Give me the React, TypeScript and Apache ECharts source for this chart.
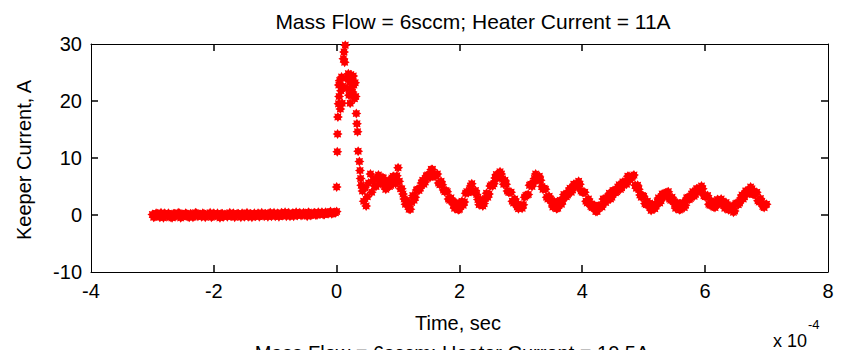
import React, { useEffect, useRef } from "react";
import * as echarts from "echarts";

// Time axis in units of 1e-4 s
const xTicks = [-4, -2, 0, 2, 4, 6, 8];
const yTicks = [-10, 0, 10, 20, 30];

// Baseline before the discharge: two interleaved sample sets, every 0.04
const baselineStartA = -3.0;
const baselineStartB = -2.98;
const baselineStep = 0.04;
const baselineValuesA = [
  0.1, -0.3, 0.2, -0.4, 0.0, 0.3, -0.2, 0.1, -0.5, 0.2,
  -0.1, 0.3, -0.3, 0.0, 0.2, -0.4, 0.1, -0.2, 0.3, 0.0,
  -0.3, 0.2, -0.1, 0.1, -0.4, 0.3, 0.0, -0.2, 0.2, -0.3,
  0.1, 0.0, -0.2, 0.3, -0.1, 0.2, -0.4, 0.1, 0.0, -0.3,
  0.2, 0.1, -0.2, 0.3, -0.1, 0.0, 0.2, -0.3, 0.4, 0.1,
  -0.2, 0.3, 0.0, -0.1, 0.5, 0.2, -0.2, 0.3, 0.1, -0.1,
  0.4, 0.0, 0.2, -0.2, 0.3, 0.1, 0.4, 0.0, 0.2, 0.5,
  0.1, 0.3, 0.4, 0.2, 0.5, 0.6,
];
const baselineValuesB = [
  -0.4, 0.3, -0.1, 0.4, -0.5, 0.1, 0.3, -0.4, 0.2, -0.2,
  0.4, -0.5, 0.1, 0.3, -0.3, 0.2, -0.4, 0.4, -0.2, 0.1,
  0.3, -0.4, 0.0, 0.4, -0.2, -0.1, 0.3, -0.5, 0.2, 0.1,
  -0.3, 0.4, -0.1, -0.4, 0.2, 0.0, 0.3, -0.3, 0.4, -0.1,
  -0.4, 0.3, 0.1, -0.3, 0.4, -0.2, 0.0, 0.3, -0.2, 0.4,
  0.0, -0.3, 0.4, 0.1, -0.2, 0.4, 0.0, -0.2, 0.5, 0.2,
  -0.1, 0.4, 0.1, 0.5, -0.1, 0.3, 0.0, 0.5, 0.2, 0.1,
  0.5, 0.2, 0.6, 0.3, 0.4,
];

// Ignition burst: [time, current]
const burstPoints: [number, number][] = [
  [0.0, 4.9], [0.01, 11.1], [0.015, 14.2], [0.02, 17.2], [0.03, 19.5], [0.035, 22.8],
  [0.04, 20.8], [0.05, 23.6], [0.06, 18.6], [0.07, 21.8], [0.08, 24.2], [0.09, 19.6],
  [0.1, 22.6], [0.11, 27.4], [0.12, 28.6], [0.13, 26.8], [0.14, 29.8], [0.15, 24.0],
  [0.17, 22.2], [0.19, 24.8], [0.2, 21.0], [0.21, 23.4], [0.22, 19.6], [0.23, 24.6],
  [0.24, 22.4], [0.25, 23.8], [0.26, 21.6], [0.27, 24.4], [0.28, 22.8], [0.29, 20.4],
  [0.3, 23.2], [0.31, 20.8], [0.32, 17.8], [0.33, 16.0], [0.34, 14.6], [0.35, 11.2],
  [0.37, 9.4], [0.38, 7.8], [0.39, 6.4], [0.4, 5.2], [0.42, 4.2], [0.44, 2.4],
  [0.46, 4.8], [0.48, 1.6], [0.5, 3.2], [0.52, 5.6], [0.55, 7.2], [0.57, 4.0],
];

// Oscillating current after ignition: two interleaved sample sets, every 0.04
const ringStartA = 0.6;
const ringStartB = 0.62;
const ringStep = 0.04;
const ringValuesA = [
  6.2, 5.0, 7.0, 5.5, 6.5, 4.5, 6.0, 5.2, 6.8, 5.5,
  8.3, 4.6, 3.7, 1.9, 1.9, 1.0, 3.4, 3.1, 4.5, 4.7,
  6.1, 5.8, 7.0, 6.6, 8.0, 6.8, 7.2, 5.3, 5.3, 4.1,
  4.1, 2.6, 2.4, 1.2, 1.8, 1.0, 2.4, 2.3, 4.1, 4.3,
  5.5, 4.0, 3.6, 1.8, 2.2, 2.0, 3.8, 3.7, 5.3, 5.5,
  7.1, 7.0, 7.2, 5.4, 5.4, 4.0, 4.0, 2.1, 2.3, 1.1,
  1.7, 1.8, 3.4, 3.6, 5.4, 5.6, 7.2, 6.3, 6.1, 4.5,
  4.5, 2.8, 2.8, 1.4, 2.0, 1.2, 2.6, 2.5, 3.5, 3.5,
  4.7, 4.4, 5.4, 5.0, 5.4, 4.0, 4.0, 2.1, 2.3, 1.3,
  1.7, 0.6, 1.6, 1.4, 2.8, 2.6, 3.8, 3.1, 4.3, 4.1,
  5.3, 4.8, 5.8, 5.4, 6.8, 6.6, 7.0, 4.7, 4.5, 3.1,
  3.3, 1.8, 2.0, 0.8, 1.6, 1.6, 3.0, 2.5, 3.7, 3.5,
  4.1, 2.6, 2.6, 1.2, 1.8, 1.0, 2.2, 1.7, 3.1, 2.9,
  4.1, 3.6, 4.6, 4.2, 4.6, 3.2, 3.4, 1.7, 2.1, 1.3,
  2.7, 2.2, 2.4, 1.2, 1.8, 1.0, 1.6, 0.7, 2.1, 2.1,
  3.5, 3.2, 4.2, 3.8, 4.6, 3.6, 4.0, 2.3, 2.3, 1.3,
  1.9,
];
const ringValuesB = [
  5.1, 6.4, 6.0, 6.6, 5.1, 5.4, 5.0, 6.5, 5.9, 6.9,
  5.9, 4.6, 2.8, 2.6, 1.0, 2.2, 2.6, 4.4, 4.3, 5.6,
  5.4, 6.9, 6.8, 8.0, 6.9, 7.0, 5.6, 5.9, 4.4, 4.3,
  2.8, 3.0, 1.8, 2.2, 0.9, 1.7, 1.7, 3.8, 3.9, 5.1,
  4.2, 4.3, 2.7, 2.7, 1.6, 2.9, 3.1, 5.1, 5.1, 6.5,
  6.5, 7.6, 6.3, 6.1, 4.2, 4.0, 2.4, 2.8, 1.4, 1.6,
  1.2, 3.1, 3.5, 5.2, 5.0, 6.4, 6.1, 6.8, 5.0, 4.7,
  3.1, 3.3, 2.1, 2.4, 1.1, 1.9, 1.9, 3.6, 3.2, 4.3,
  4.0, 5.4, 5.2, 5.9, 4.2, 4.0, 2.4, 2.8, 1.5, 1.7,
  0.6, 1.6, 1.5, 2.8, 2.2, 3.2, 2.8, 4.3, 3.9, 4.9,
  4.5, 5.8, 5.6, 6.8, 6.2, 6.8, 5.2, 5.2, 3.5, 3.4,
  2.0, 2.4, 1.4, 1.9, 1.1, 2.3, 2.1, 3.7, 3.3, 4.0,
  2.8, 3.1, 1.9, 2.2, 0.9, 1.6, 1.3, 3.0, 2.7, 3.7,
  3.3, 4.6, 4.4, 5.1, 3.4, 3.3, 1.9, 2.5, 1.4, 2.2,
  1.9, 2.8, 1.8, 2.2, 0.9, 1.3, 0.5, 2.0, 1.8, 3.0,
  2.8, 4.2, 4.0, 4.9, 3.6, 3.8, 2.5, 2.9, 1.5, 1.8,
];

const FONT = "'Liberation Sans', Arial, Helvetica, sans-serif";
const FS = 20;
const TICK_LEN = 7;
const STAR =
  "path://M20 10 L16.01 12.49 L17.07 17.07 L12.49 16.01 L10 20 L7.51 16.01 L2.93 17.07 L3.99 12.49 L0 10 L3.99 7.51 L2.93 2.93 L7.51 3.99 L10 0 L12.49 3.99 L17.07 2.93 L16.01 7.51 Z";

function makeAxis(extra: any, min: number, max: number, interval: number, labels: boolean) {
  return {
    type: "value",
    min,
    max,
    interval,
    ...extra,
    axisLine: { show: true, onZero: false, lineStyle: { color: "#000", width: 1 } },
    axisTick: { show: false },
    splitLine: { show: false },
    axisLabel: labels
      ? { show: true, color: "#000", fontFamily: FONT, fontSize: FS, margin: 9 }
      : { show: false },
  };
}

export default function App() {
  const ref = useRef<HTMLDivElement>(null);
  useEffect(() => {
    document.body.style.margin = "0";
    if (!ref.current) return;
    const chart = echarts.init(ref.current, null, { renderer: "svg" });

    const points: [number, number][] = [];
    const addRun = (start: number, step: number, vals: number[]) =>
      vals.forEach((v, i) => points.push([start + i * step, v]));
    addRun(baselineStartA, baselineStep, baselineValuesA);
    addRun(baselineStartB, baselineStep, baselineValuesB);
    burstPoints.forEach((p) => points.push([p[0], p[1]]));
    addRun(ringStartA, ringStep, ringValuesA);
    addRun(ringStartB, ringStep, ringValuesB);

    const xMin = xTicks[0];
    const xMax = xTicks[xTicks.length - 1];
    const yMin = yTicks[0];
    const yMax = yTicks[yTicks.length - 1];
    const textBase = { fontFamily: FONT, fontSize: FS, fill: "#000" };

    chart.setOption({
      animation: false,
      backgroundColor: "#fff",
      title: {
        text: "Mass Flow = 6sccm; Heater Current = 11A",
        left: 468,
        top: 6,
        textAlign: "center",
        textStyle: { fontFamily: FONT, fontSize: 21, fontWeight: "normal", color: "#000" },
      },
      grid: { left: 91, right: 17, top: 44, bottom: 78 },
      xAxis: [
        makeAxis({ position: "bottom" }, xMin, xMax, 2, true),
        makeAxis({ position: "top" }, xMin, xMax, 2, false),
      ],
      yAxis: [
        makeAxis({ position: "left" }, yMin, yMax, 10, true),
        makeAxis({ position: "right" }, yMin, yMax, 10, false),
      ],
      series: [
        {
          type: "scatter",
          xAxisIndex: 0,
          yAxisIndex: 0,
          data: points,
          symbol: STAR,
          symbolSize: 10,
          itemStyle: { color: "#ff0000", opacity: 1 },
          emphasis: { disabled: true },
        },
      ],
    });

    // Inward tick marks on all four sides, placed through the axes' own scales
    const toX = (v: number) => Number(chart.convertToPixel({ xAxisIndex: 0 }, v));
    const toY = (v: number) => Number(chart.convertToPixel({ yAxisIndex: 0 }, v));
    const left = toX(xMin);
    const right = toX(xMax);
    const top = toY(yMax);
    const bottom = toY(yMin);
    const tickFill = "#000";
    const ticks: any[] = [];
    xTicks.slice(1, -1).forEach((v) => {
      const px = Math.round(toX(v));
      ticks.push({ type: "rect", silent: true, z: 100, shape: { x: px - 0.75, y: bottom - TICK_LEN, width: 1.5, height: TICK_LEN }, style: { fill: tickFill } });
      ticks.push({ type: "rect", silent: true, z: 100, shape: { x: px - 0.75, y: top, width: 1.5, height: TICK_LEN }, style: { fill: tickFill } });
    });
    yTicks.slice(1, -1).forEach((v) => {
      const py = Math.round(toY(v));
      ticks.push({ type: "rect", silent: true, z: 100, shape: { x: left, y: py - 0.75, width: TICK_LEN, height: 1.5 }, style: { fill: tickFill } });
      ticks.push({ type: "rect", silent: true, z: 100, shape: { x: right - TICK_LEN, y: py - 0.75, width: TICK_LEN, height: 1.5 }, style: { fill: tickFill } });
    });

    chart.setOption({
      graphic: [
        ...ticks,
        {
          type: "text",
          x: 24,
          y: 160,
          rotation: Math.PI / 2,
          style: { ...textBase, text: "Keeper Current, A", align: "center", verticalAlign: "middle" },
        },
        {
          type: "text",
          x: 458,
          y: 323,
          style: { ...textBase, text: "Time, sec", align: "center", verticalAlign: "middle" },
        },
        {
          type: "text",
          x: 773,
          y: 341,
          style: { ...textBase, fontSize: 18, text: "x 10", align: "left", verticalAlign: "middle" },
        },
        {
          type: "text",
          x: 808,
          y: 324,
          style: { ...textBase, fontSize: 13, text: "-4", align: "left", verticalAlign: "middle" },
        },
        {
          type: "text",
          x: 452,
          y: 343,
          style: {
            ...textBase,
            text: "Mass Flow = 6sccm; Heater Current = 10.5A",
            align: "center",
            verticalAlign: "top",
          },
        },
      ],
    });
    return () => chart.dispose();
  }, []);
  return <div ref={ref} style={{ width: 845, height: 350 }} />;
}
